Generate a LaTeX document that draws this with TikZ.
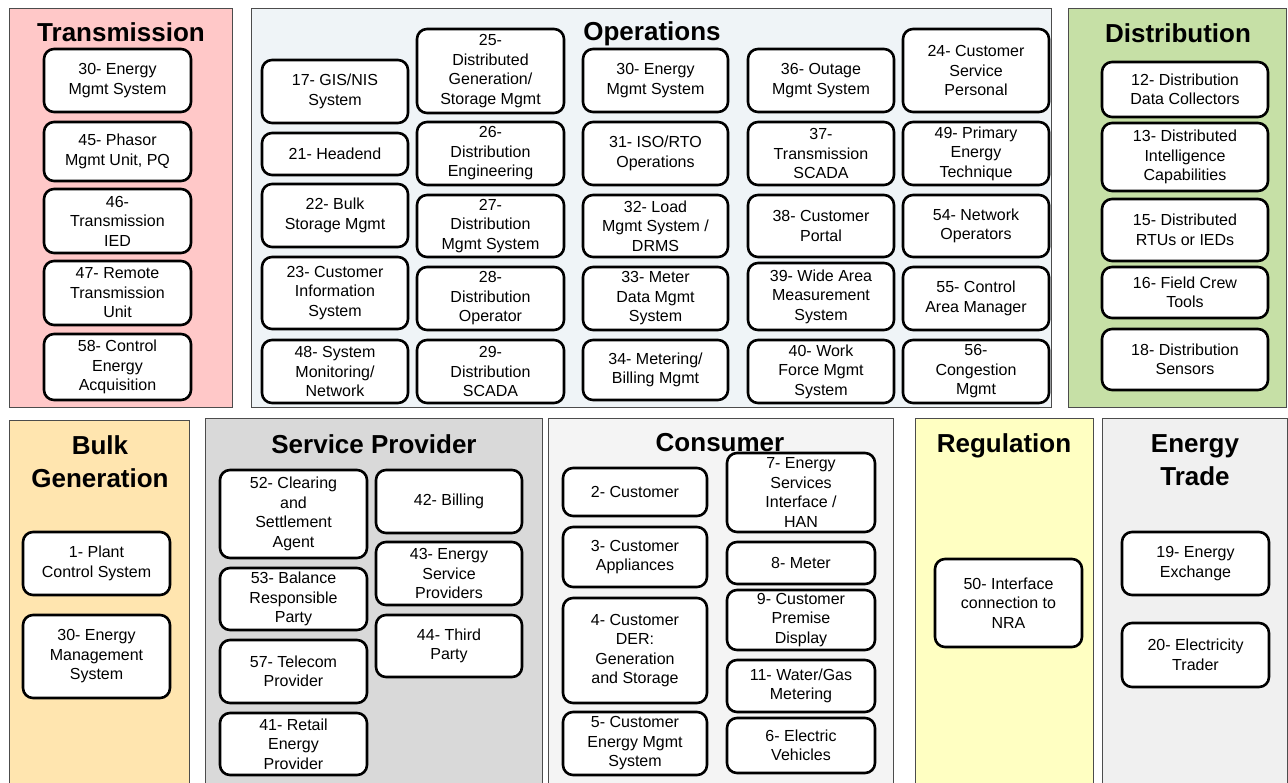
\documentclass[tikz,border=0pt]{standalone}
\usepackage{fontspec}
\setmainfont{Liberation Sans}
\begin{document}
\begin{tikzpicture}[x=1pt,y=-1pt,
  panel/.style={draw=black!70,line width=0.9pt},
  paneltitle/.style={anchor=base,align=center,font=\fontsize{26}{33}\selectfont\bfseries},
  unitbox/.style={draw=black,fill=white,line width=2.6pt,rounded corners=10pt,inner sep=0pt,outer sep=0pt,align=center,font=\fontsize{16}{19.5}\selectfont}]
\definecolor{domTransmission}{HTML}{FFC8C8}
\definecolor{domOperations}{HTML}{EFF4F7}
\definecolor{domDistribution}{HTML}{C6E0A6}
\definecolor{domBulk}{HTML}{FFE5AF}
\definecolor{domService}{HTML}{D9D9D9}
\definecolor{domConsumer}{HTML}{F4F4F4}
\definecolor{domRegulation}{HTML}{FFFFC2}
\definecolor{domTrade}{HTML}{F0F0F0}
\useasboundingbox[fill=white] (0,0) rectangle (1288,782);
\clip (0,0) rectangle (1288,782);
\draw[panel,fill=domTransmission] (9,8) rectangle (232,407);
\draw[panel,fill=domOperations] (251,8) rectangle (1051,407);
\draw[panel,fill=domDistribution] (1068,8) rectangle (1286,407);
\draw[panel,fill=domBulk] (9,420) rectangle (189,795);
\draw[panel,fill=domService] (205,418) rectangle (542,795);
\draw[panel,fill=domConsumer] (548,418) rectangle (893,795);
\draw[panel,fill=domRegulation] (915,418) rectangle (1093,795);
\draw[panel,fill=domTrade] (1102,418) rectangle (1287,795);
\node[paneltitle] (tTransmission) at (121,41) {Transmission};
\node[paneltitle] (tOperations) at (652,40) {Operations};
\node[paneltitle] (tDistribution) at (1178,42) {Distribution};
\node[paneltitle] (tBulk) at (100,487) {Bulk\\Generation};
\node[paneltitle] (tService) at (374,453) {Service Provider};
\node[paneltitle] (tConsumer) at (720,451) {Consumer};
\node[paneltitle] (tRegulation) at (1004,452) {Regulation};
\node[paneltitle] (tTrade) at (1195,485) {Energy\\Trade};
\foreach \nm/\xa/\ya/\xb/\yb/\txt in {
  tr30/44/49/191/112/{30- Energy\\Mgmt System},
  tr45/44/122/191/181/{45- Phasor\\Mgmt Unit, PQ},
  tr46/44/189/191/253/{46-\\Transmission\\IED},
  tr47/44/261/191/325/{47- Remote\\Transmission\\Unit},
  tr58/44/334/191/400/{58- Control\\Energy\\Acquisition},
  op17/262/60/408/123/{17- GIS/NIS\\System},
  op21/262/133/408/175/{21- Headend},
  op22/262/184/408/247/{22- Bulk\\Storage Mgmt},
  op23/262/257/408/329/{23- Customer\\Information\\System},
  op48/262/340/408/403/{48- System\\Monitoring/\\Network},
  op25/417/29/564/113/{25-\\Distributed\\Generation/\\Storage Mgmt},
  op26/417/122/564/185/{26-\\Distribution\\Engineering},
  op27/417/195/564/257/{27-\\Distribution\\Mgmt System},
  op28/417/267/564/330/{28-\\Distribution\\Operator},
  op29/417/340/564/403/{29-\\Distribution\\SCADA},
  op30/583/49/728/112/{30- Energy\\Mgmt System},
  op31/583/122/728/185/{31- ISO/RTO\\Operations},
  op32/583/195/728/257/{32- Load\\Mgmt System /\\DRMS},
  op33/583/267/728/330/{33- Meter\\Data Mgmt\\System},
  op34/583/340/728/400/{34- Metering/\\Billing Mgmt},
  op36/748/49/894/112/{36- Outage\\Mgmt System},
  op37/748/122/894/185/{37-\\Transmission\\SCADA},
  op38/748/195/894/257/{38- Customer\\Portal},
  op39/748/263/894/330/{39- Wide Area\\Measurement\\System},
  op40/748/340/894/403/{40- Work\\Force Mgmt\\System},
  op24/903/29/1049/112/{24- Customer\\Service\\Personal},
  op49/903/122/1049/185/{49- Primary\\Energy\\Technique},
  op54/903/195/1049/257/{54- Network\\Operators},
  op55/903/267/1049/330/{55- Control\\Area Manager},
  op56/903/340/1049/403/{56-\\Congestion\\Mgmt},
  di12/1102/62/1268/117/{12- Distribution\\Data Collectors},
  di13/1102/123/1268/191/{13- Distributed\\Intelligence\\Capabilities},
  di15/1102/199/1268/261/{15- Distributed\\RTUs or IEDs},
  di16/1102/267/1268/318/{16- Field Crew\\Tools},
  di18/1102/329/1268/390/{18- Distribution\\Sensors},
  bg1/23/532/170/595/{1- Plant\\Control System},
  bg30/23/615/170/698/{30- Energy\\Management\\System},
  sp52/220/470/367/558/{52- Clearing\\and\\Settlement\\Agent},
  sp53/220/568/367/630/{53- Balance\\Responsible\\Party},
  sp57/220/640/367/703/{57- Telecom\\Provider},
  sp41/220/713/367/775/{41- Retail\\Energy\\Provider},
  sp42/376/470/522/533/{42- Billing},
  sp43/376/542/522/605/{43- Energy\\Service\\Providers},
  sp44/376/615/522/677/{44- Third\\Party},
  co2/563/468/707/516/{2- Customer},
  co3/563/527/707/587/{3- Customer\\Appliances},
  co4/563/598/707/703/{4- Customer\\DER:\\Generation\\and Storage},
  co5/563/712/707/775/{5- Customer\\Energy Mgmt\\System},
  co7/727/453/875/532/{7- Energy\\Services\\Interface /\\HAN},
  co8/727/542/875/584/{8- Meter},
  co9/727/590/875/650/{9- Customer\\Premise\\Display},
  co11/727/660/875/712/{11- Water/Gas\\Metering},
  co6/727/718/875/773/{6- Electric\\Vehicles},
  re50/935/559/1082/647/{50- Interface\\connection to\\NRA},
  et19/1122/532/1269/595/{19- Energy\\Exchange},
  et20/1122/623/1269/687/{20- Electricity\\Trader}} {
  \pgfmathsetmacro\bw{\xb-\xa}
  \pgfmathsetmacro\bh{\yb-\ya}
  \node[unitbox,minimum width=\bw pt,minimum height=\bh pt] (\nm) at ({(\xa+\xb)/2},{(\ya+\yb)/2}) {\txt};
}
\end{tikzpicture}
\end{document}
